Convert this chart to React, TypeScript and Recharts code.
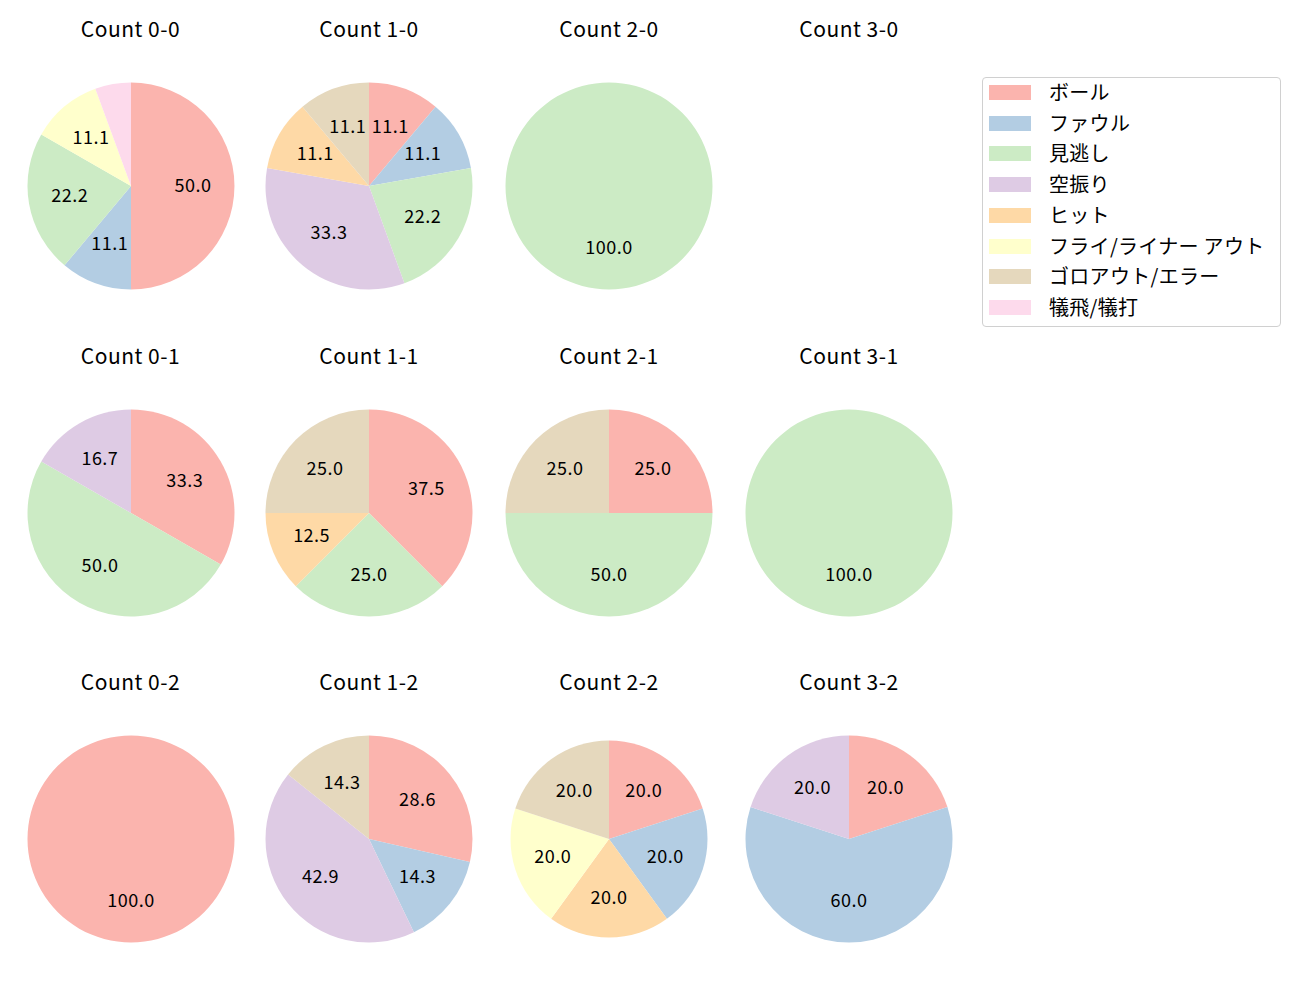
import { PieChart, Pie, Cell } from "recharts"

const CATEGORIES = [
  "ボール",
  "ファウル",
  "見逃し",
  "空振り",
  "ヒット",
  "フライ/ライナー アウト",
  "ゴロアウト/エラー",
  "犠飛/犠打",
]

const COLORS = ["#fbb4ae", "#b3cde3", "#ccebc5", "#decbe4", "#fed9a6", "#ffffcc", "#e5d8bd", "#fddaec"]

const TITLES = [
  "Count 0-0", "Count 1-0", "Count 2-0", "Count 3-0",
  "Count 0-1", "Count 1-1", "Count 2-1", "Count 3-1",
  "Count 0-2", "Count 1-2", "Count 2-2", "Count 3-2",
]

// percentages per category, same order as CATEGORIES
const count00 = [50.0, 11.1, 22.2, 0, 0, 11.1, 0, 5.6]
const count10 = [11.1, 11.1, 22.2, 33.3, 11.1, 0, 11.1, 0]
const count20 = [0, 0, 100.0, 0, 0, 0, 0, 0]
const count30 = [0, 0, 0, 0, 0, 0, 0, 0]
const count01 = [33.3, 0, 50.0, 16.7, 0, 0, 0, 0]
const count11 = [37.5, 0, 25.0, 0, 12.5, 0, 25.0, 0]
const count21 = [25.0, 0, 50.0, 0, 0, 0, 25.0, 0]
const count31 = [0, 0, 100.0, 0, 0, 0, 0, 0]
const count02 = [100.0, 0, 0, 0, 0, 0, 0, 0]
const count12 = [28.6, 14.3, 0, 42.9, 0, 0, 14.3, 0]
const count22 = [20.0, 20.0, 0, 0, 20.0, 20.0, 20.0, 0]
const count32 = [20.0, 60.0, 0, 20.0, 0, 0, 0, 0]

const ALL_COUNTS = [
  count00, count10, count20, count30,
  count01, count11, count21, count31,
  count02, count12, count22, count32,
]

// layout
const COL_X = [130.5, 369, 609, 849]
const ROW_Y = [186, 512.5, 839]
const TITLE_Y = [28, 355, 681]
const RADIUS = 103.5
const SMALL_RADIUS = 98.5
const FONT = '"Noto Sans CJK JP", "Noto Sans", sans-serif'
const RADIAN = Math.PI / 180

function renderLabel(props: any) {
  const { cx, cy, midAngle, outerRadius, percent } = props
  const pct = percent * 100
  if (pct < 10) return null
  const r = outerRadius * 0.6
  const x = cx + r * Math.cos(-midAngle * RADIAN)
  const y = cy + r * Math.sin(-midAngle * RADIAN)
  return (
    <text x={x} y={y - 2.5} textAnchor="middle" dominantBaseline="central"
      fill="#000" fontSize={18} letterSpacing={0.5} fontFamily={FONT}>
      {pct.toFixed(1)}
    </text>
  )
}

function CountPie({ idx }: { idx: number }) {
  const values = ALL_COUNTS[idx]
  const data = CATEGORIES
    .map((name, i) => ({ name, value: values[i], color: COLORS[i] }))
    .filter((d) => d.value > 0)
  const col = idx % 4
  const row = Math.floor(idx / 4)
  const cx = COL_X[col]
  const cy = ROW_Y[row]
  const radius = idx === 10 ? SMALL_RADIUS : RADIUS
  const size = 250

  return (
    <>
      <div style={{
        position: "absolute", left: cx - 100, width: 200, top: TITLE_Y[row] - 15,
        lineHeight: "30px", textAlign: "center", fontSize: 21, letterSpacing: 0.5,
        fontFamily: FONT, color: "#000",
      }}>
        {TITLES[idx]}
      </div>
      {data.length > 0 && (
        <div style={{ position: "absolute", left: cx - size / 2, top: cy - size / 2 }}>
          <PieChart width={size} height={size} margin={{ top: 0, right: 0, bottom: 0, left: 0 }}>
            <Pie
              data={data}
              dataKey="value"
              cx={size / 2}
              cy={size / 2}
              outerRadius={radius}
              startAngle={90}
              endAngle={-270}
              stroke="none"
              label={renderLabel}
              labelLine={false}
              isAnimationActive={false}
            >
              {data.map((d) => (
                <Cell key={d.name} fill={d.color} />
              ))}
            </Pie>
          </PieChart>
        </div>
      )}
    </>
  )
}

function LegendBox() {
  const pitch = 30.7
  return (
    <div style={{
      position: "absolute", left: 982, top: 77, width: 299, height: 250,
      boxSizing: "border-box", border: "1px solid #d0d0d0", borderRadius: 4, background: "#fff",
    }}>
      {CATEGORIES.map((name, i) => (
        <div key={name}>
          <div style={{
            position: "absolute", left: 6, top: 7 + i * pitch, width: 42, height: 15,
            background: COLORS[i],
          }} />
          <div style={{
            position: "absolute", left: 66, top: 14.5 + i * pitch - 14.5, lineHeight: "28px",
            fontSize: 20, letterSpacing: 0.3, fontFamily: FONT, color: "#000", whiteSpace: "nowrap",
          }}>
            {name}
          </div>
        </div>
      ))}
    </div>
  )
}

export default function App() {
  return (
    <div style={{ position: "absolute", left: 0, top: 0, width: 1300, height: 1000, background: "#fff" }}>
      {TITLES.map((_, i) => (
        <CountPie key={i} idx={i} />
      ))}
      <LegendBox />
    </div>
  )
}
